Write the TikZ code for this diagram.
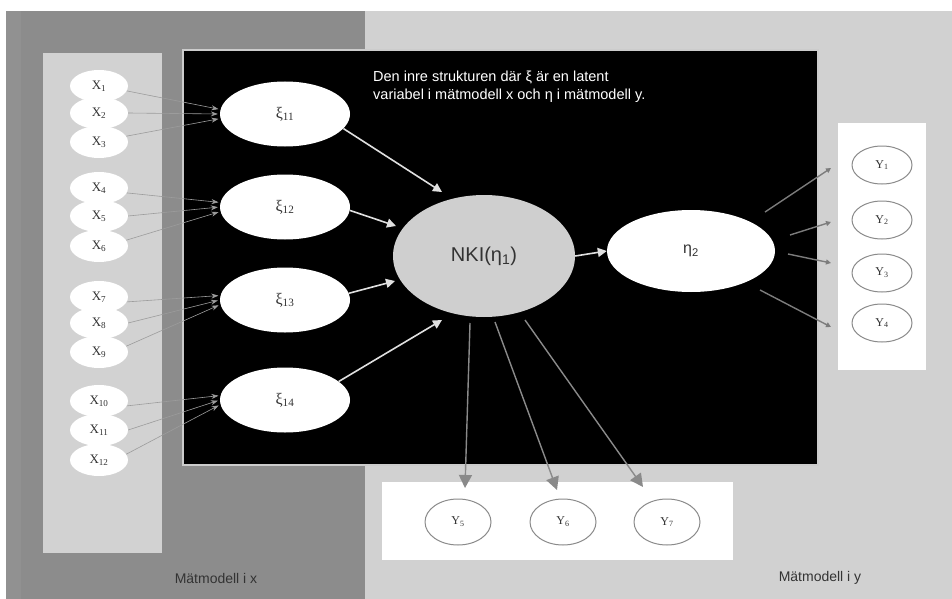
\documentclass[tikz,border=0pt]{standalone}
\usepackage{fontspec}
\setmainfont{Liberation Serif}
\setsansfont{Liberation Sans}
\usetikzlibrary{shapes.geometric,arrows.meta}
\definecolor{darkbg}{HTML}{8C8C8C}
\definecolor{lightbg}{HTML}{D1D1D1}
\definecolor{panelgray}{HTML}{D2D2D2}
\definecolor{nkifill}{HTML}{CFCFCF}
\definecolor{linegray}{HTML}{8A8A8A}
\definecolor{labelgray}{HTML}{333333}
\begin{document}
\begin{tikzpicture}[x=1pt,y=-1pt,
  xnode/.style={ellipse,fill=white,minimum width=58pt,minimum height=32pt,inner sep=0pt,font=\fontsize{13}{13}\selectfont,text=labelgray},
  xinode/.style={ellipse,fill=white,minimum width=130pt,minimum height=65pt,inner sep=0pt,font=\fontsize{16}{16}\selectfont,text=labelgray},
  ynode/.style={ellipse,draw=linegray,line width=1pt,fill=white,minimum width=60pt,minimum height=38pt,inner sep=0pt,font=\fontsize{12}{12}\selectfont,text=labelgray},
  ybnode/.style={ynode,minimum width=66pt,minimum height=46pt},
  inarrow/.style={draw=linegray!85!white,line width=0.6pt,shorten >=2pt,-{Stealth[length=7pt,width=5pt]}},
  strarrow/.style={draw=white!88!black,line width=1.6pt,-{Triangle[length=9pt,width=9pt]}},
  outarrow/.style={draw=linegray,line width=1.4pt,-{Triangle[length=13pt,width=13pt]}},
  rarrow/.style={draw=linegray!90!black,line width=1.4pt,-{Triangle[length=5pt,width=5pt]}},
  bottomlabel/.style={font=\sffamily\fontsize{14}{14}\selectfont,text=labelgray}
]
\useasboundingbox (0,0) rectangle (952,599);
% backgrounds
\fill[white] (0,0) rectangle (952,599);
\fill[darkbg] (6,11) rectangle (365,599);
\fill[darkbg!96!white] (6,11) rectangle (21,599);
\fill[lightbg] (365,11) rectangle (952,599);
\fill[panelgray] (43,53) rectangle (162,553);
\fill[black] (183,50) rectangle (818,465);
\draw[white!80!black,line width=1.5pt] (183,50) rectangle (818,465);
\fill[white] (838,123) rectangle (926,370);
\fill[white] (382,482) rectangle (733,560);

% text
\node[anchor=north west,align=left,text=white,font=\sffamily\fontsize{14.5}{18}\selectfont,inner sep=0pt] (txt) at (373,71)
  {Den inre strukturen där ξ är en latent\\variabel i mätmodell x och η i mätmodell y.};

% X nodes
\node[xnode] (x1) at (99,86) {X\textsubscript{1}};
\node[xnode] (x2) at (99,113) {X\textsubscript{2}};
\node[xnode] (x3) at (99,142) {X\textsubscript{3}};
\node[xnode] (x4) at (99,188) {X\textsubscript{4}};
\node[xnode] (x5) at (99,216) {X\textsubscript{5}};
\node[xnode] (x6) at (99,246) {X\textsubscript{6}};
\node[xnode] (x7) at (99,297) {X\textsubscript{7}};
\node[xnode] (x8) at (99,323) {X\textsubscript{8}};
\node[xnode] (x9) at (99,352) {X\textsubscript{9}};
\node[xnode] (x10) at (99,401) {X\textsubscript{10}};
\node[xnode] (x11) at (99,430) {X\textsubscript{11}};
\node[xnode] (x12) at (99,460) {X\textsubscript{12}};

% xi nodes
\node[xinode] (xi1) at (285,114) {ξ\textsubscript{11}};
\node[xinode] (xi2) at (285,207) {ξ\textsubscript{12}};
\node[xinode] (xi3) at (285,300) {ξ\textsubscript{13}};
\node[xinode] (xi4) at (285,400) {ξ\textsubscript{14}};

% NKI and eta2
\node[ellipse,fill=nkifill,minimum width=182pt,minimum height=122pt,inner sep=0pt,font=\sffamily\fontsize{20}{20}\selectfont,text=labelgray] (nki) at (484,256) {NKI(η\textsubscript{1})};
\node[ellipse,fill=white,minimum width=168pt,minimum height=82pt,inner sep=0pt,font=\sffamily\fontsize{16}{16}\selectfont,text=labelgray] (eta2) at (691,251) {η\textsubscript{2}};

% Y nodes right
\node[ynode] (y1) at (882,165) {Y\textsubscript{1}};
\node[ynode] (y2) at (882,220) {Y\textsubscript{2}};
\node[ynode] (y3) at (882,273) {Y\textsubscript{3}};
\node[ynode] (y4) at (882,323) {Y\textsubscript{4}};
% Y nodes bottom
\node[ybnode] (y5) at (458,522) {Y\textsubscript{5}};
\node[ybnode] (y6) at (563,522) {Y\textsubscript{6}};
\node[ybnode] (y7) at (667,522) {Y\textsubscript{7}};

% X -> xi connectors
\foreach \g/\a/\b/\c in {xi1/x1/x2/x3, xi2/x4/x5/x6, xi3/x7/x8/x9, xi4/x10/x11/x12}{
  \draw[inarrow] (\a.-10) -- (\g.176);
  \draw[inarrow] (\b.east) -- (\g.180);
  \draw[inarrow] (\c.12) -- (\g.184);
}

% xi -> NKI
\coordinate (t1) at (442,192);
\coordinate (t2) at (396,226);
\coordinate (t3) at (395,281);
\coordinate (t4) at (442,320);
\draw[strarrow] (xi1.-14) -- (t1);
\draw[strarrow] (xi2.-3) -- (t2);
\draw[strarrow] (xi3.6) -- (t3);
\draw[strarrow] (xi4.19) -- (t4);

% NKI -> eta2
\draw[strarrow] (nki.east) -- (eta2.west);

% NKI -> Y5..Y7
\coordinate (s5) at (470,323);
\coordinate (s6) at (495,322);
\coordinate (s7) at (525,320);
\coordinate (e5) at (465,488);
\coordinate (e6) at (557,490);
\coordinate (e7) at (643,487);
\draw[outarrow] (s5) -- (e5);
\draw[outarrow] (s6) -- (e6);
\draw[outarrow] (s7) -- (e7);

% eta2 -> Y1..Y4
\coordinate (r1s) at (765,212); \coordinate (r1e) at (831,168);
\coordinate (r2s) at (790,235); \coordinate (r2e) at (831,222);
\coordinate (r3s) at (788,254); \coordinate (r3e) at (831,263);
\coordinate (r4s) at (760,290); \coordinate (r4e) at (831,327);
\draw[rarrow] (r1s) -- (r1e);
\draw[rarrow] (r2s) -- (r2e);
\draw[rarrow] (r3s) -- (r3e);
\draw[rarrow] (r4s) -- (r4e);

% bottom labels
\node[bottomlabel] (lx) at (216,578) {Mätmodell i x};
\node[bottomlabel] (ly) at (820,578) {Mätmodell i y};
\end{tikzpicture}
\end{document}
